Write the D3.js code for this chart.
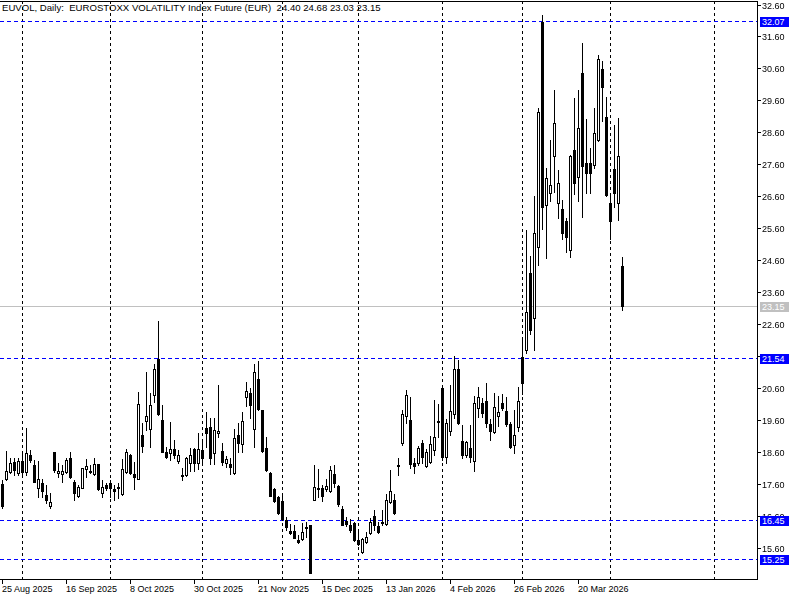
<!DOCTYPE html>
<html>
<head>
<meta charset="utf-8">
<script src="https://cdn.jsdelivr.net/npm/d3@7"></script>
<style>
  body { margin: 0; background: #fff; }
  svg { display: block; font-family: "Liberation Sans", Arial, sans-serif; font-size: 9px; }
</style>
</head>
<body>
<div id="chart" style="width:800px;height:600px"></div>
<script>
"use strict";

const title = "EUVOL, Daily:  EUROSTOXX VOLATILITY Index Future (EUR)  24.40 24.68 23.03 23.15";

// daily bars, oldest first (25 Aug 2025 ...)
const open = [17.60,17.73,17.95,18.28,17.92,18.30,17.95,18.49,18.18,17.47,17.61,17.24,16.91,18.58,17.92,17.91,17.97,18.41,17.66,17.22,
  17.47,18.05,17.99,17.89,18.20,17.32,17.57,17.63,17.43,17.49,17.27,17.97,18.49,17.89,17.76,19.12,19.57,19.30,20.39,21.50,
  19.59,18.60,18.57,18.67,18.31,17.84,17.87,18.25,18.67,18.25,18.65,19.33,19.36,18.55,19.17,18.62,18.23,18.20,17.94,19.12,
  18.83,20.30,20.45,19.30,20.89,19.90,18.73,17.92,17.42,17.19,17.06,16.46,16.12,16.12,15.85,15.88,16.21,16.30,17.10,17.46,
  17.45,17.44,17.38,17.89,17.52,16.79,16.43,16.30,16.38,15.83,15.46,15.78,16.04,16.58,16.27,16.38,16.33,17.03,17.10,18.18,
  18.88,19.72,19.60,18.25,18.23,18.86,18.15,18.28,18.65,19.56,20.58,18.42,19.25,19.78,21.18,18.94,18.49,18.70,18.31,19.98,
  20.11,20.20,19.48,19.22,19.71,20.11,19.88,19.48,18.81,19.38,21.55,21.78,24.18,22.77,25.02,32.04,26.32,26.71,27.87,26.38,
  26.19,25.83,24.90,28.03,27.19,30.45,27.65,27.63,27.58,28.36,30.57,29.07,26.38,27.44,26.38,24.40];
const high = [17.70,18.62,18.41,18.41,18.41,18.52,19.35,18.65,18.34,18.32,17.76,17.55,17.32,18.60,18.23,18.18,18.39,18.60,17.71,17.55,
  18.10,18.37,18.18,18.39,18.22,17.71,17.61,17.71,17.55,17.61,18.37,18.67,18.52,18.28,20.46,19.49,21.10,20.43,21.33,22.69,
  20.06,18.75,19.52,18.96,18.65,18.10,18.44,18.72,18.72,19.17,18.96,19.85,19.64,19.64,20.69,18.88,18.46,18.39,19.30,19.49,
  19.85,20.79,20.58,21.34,21.44,19.92,19.05,17.97,17.45,17.21,17.27,16.56,16.35,16.30,15.99,16.37,16.40,16.30,18.18,18.07,
  17.55,17.76,18.15,18.18,17.55,16.90,16.56,16.48,16.40,16.09,15.91,16.09,16.51,16.77,16.40,16.77,17.27,18.02,17.27,18.39,
  19.92,20.53,20.30,18.39,18.77,18.98,18.67,19.09,20.21,20.09,20.65,19.61,20.69,21.59,21.47,19.43,18.94,19.43,20.34,20.61,
  20.27,20.76,19.61,20.45,20.34,20.42,20.32,19.54,19.92,20.61,22.18,25.54,24.73,26.59,29.35,32.28,27.47,28.36,29.93,27.42,
  26.48,25.91,27.90,29.67,29.93,31.41,29.01,28.10,29.35,31.02,30.82,29.70,26.64,28.83,29.04,24.68];
const low = [16.85,17.70,17.92,17.87,17.87,17.82,17.87,18.28,17.64,17.19,17.19,16.98,16.84,17.95,17.82,17.66,17.92,17.79,17.08,17.19,
  17.45,17.82,17.92,17.87,17.40,17.19,17.40,17.19,17.08,17.16,17.24,17.92,17.89,17.43,17.74,18.60,19.28,18.75,20.14,19.75,
  18.58,18.39,18.34,18.41,18.26,17.71,17.84,17.99,17.99,18.05,18.28,18.75,18.21,18.21,19.05,18.18,18.13,17.89,17.89,18.60,
  18.60,20.03,19.66,18.75,19.92,18.60,17.99,17.21,17.03,16.65,16.46,16.16,16.02,15.91,15.75,15.85,15.93,14.81,17.08,17.17,
  17.06,17.38,17.35,17.50,16.90,16.30,16.27,16.09,15.81,15.67,15.44,15.75,16.02,16.16,16.06,16.30,16.30,16.98,16.65,17.87,
  18.81,19.51,18.10,17.92,18.18,18.25,18.13,18.25,18.49,19.07,18.34,18.25,19.12,19.64,19.48,18.39,18.44,18.28,18.00,19.67,
  19.67,19.36,18.98,19.17,19.40,19.92,19.40,18.70,18.57,19.25,20.40,21.70,22.28,21.78,24.45,25.56,24.65,26.46,26.74,25.91,
  25.25,24.86,24.71,26.67,26.46,25.94,26.71,26.71,27.47,28.34,28.94,26.61,25.25,26.27,25.85,23.03];
const close = [16.91,18.01,18.26,18.02,18.30,17.97,18.55,18.34,17.66,17.73,17.38,17.08,17.01,18.02,17.99,17.99,18.34,17.82,17.31,17.48,
  18.08,18.16,17.95,18.20,17.43,17.50,17.47,17.47,17.37,17.45,18.06,18.58,17.92,17.82,20.08,18.79,19.72,20.06,21.19,19.78,
  18.60,18.44,18.67,18.51,18.51,17.86,18.39,18.51,18.25,18.67,18.39,19.17,18.39,19.28,19.24,18.28,18.36,18.11,19.02,18.88,
  19.56,20.51,20.06,21.10,19.95,18.63,18.02,17.22,17.06,16.69,16.48,16.25,16.06,15.91,15.78,16.09,16.24,14.81,17.50,17.42,
  17.21,17.52,18.04,17.63,16.96,16.30,16.35,16.14,15.83,15.71,15.88,15.93,16.40,16.30,16.09,16.41,17.08,17.37,16.67,18.15,
  19.78,20.37,18.20,18.15,18.73,18.42,18.60,18.83,19.05,19.54,18.42,19.51,19.88,21.18,19.51,18.49,18.91,18.42,20.13,20.32,
  19.82,19.51,19.25,20.01,19.85,19.98,19.46,18.75,19.12,20.20,20.74,22.98,22.41,25.46,29.22,26.25,27.16,26.95,28.90,27.00,
  25.44,25.31,27.86,27.02,28.73,27.53,27.34,27.32,28.57,30.89,30.01,26.64,25.83,26.71,27.86,23.15];

// time axis: bar index of each label, and first bar of each month (grid)
const dateTicks = [0, 16, 32, 48, 64, 80, 96, 112, 128, 144];
const dateLabels = ["25 Aug 2025", "16 Sep 2025", "8 Oct 2025", "30 Oct 2025", "21 Nov 2025",
  "15 Dec 2025", "13 Jan 2026", "4 Feb 2026", "26 Feb 2026", "20 Mar 2026"];
const monthStarts = [5, 27, 50, 70, 89, 110, 130, 152, 178];

const priceTicks = [15.60, 16.60, 17.60, 18.60, 19.60, 20.60, 21.60, 22.60, 23.60, 24.60,
  25.60, 26.60, 27.60, 28.60, 29.60, 30.60, 31.60, 32.60];
const levels = [32.07, 21.54, 16.45, 15.25];
const lastPrice = 23.15;


const width = 800, height = 600;
const plotRight = 757, plotTop = 1, plotBottom = 579;

const svg = d3.select("#chart").append("svg")
    .attr("width", width)
    .attr("height", height)
    .style("shape-rendering", "crispEdges");

svg.append("rect").attr("width", width).attr("height", height).attr("fill", "#fff");

// bar index -> pixel (4 px per bar), price -> pixel
const x = d3.scaleLinear().domain([0, 155]).range([2.5, 622.5]);
const y = d3.scaleLinear().domain([15.6, 32.6]).range([547.5, 4.5]);
const py = v => Math.round(y(v)) + 0.5;

// month grid
svg.append("g").selectAll("line")
    .data(monthStarts)
    .join("line")
    .attr("x1", d => x(d)).attr("x2", d => x(d))
    .attr("y1", plotTop).attr("y2", plotBottom)
    .attr("stroke", "#000")
    .attr("stroke-dasharray", "3,3");

// current price
svg.append("line")
    .attr("x1", 0).attr("x2", plotRight)
    .attr("y1", py(lastPrice)).attr("y2", py(lastPrice))
    .attr("stroke", "#c0c0c0");

// horizontal levels
svg.append("g").selectAll("line")
    .data(levels)
    .join("line")
    .attr("x1", 0).attr("x2", plotRight)
    .attr("y1", d => py(d)).attr("y2", d => py(d))
    .attr("stroke", "#0000ff")
    .attr("stroke-dasharray", "4,3");

// candles
const bars = d3.range(open.length);
const g = svg.append("g");
g.selectAll("line.wick")
    .data(bars)
    .join("line")
    .attr("class", "wick")
    .attr("x1", i => x(i)).attr("x2", i => x(i))
    .attr("y1", i => py(high[i]) - 0.5).attr("y2", i => py(low[i]) + 0.5)
    .attr("stroke", "#000");

g.selectAll("rect.body")
    .data(bars)
    .join("rect")
    .attr("class", "body")
    .attr("x", i => x(i) - 1)
    .attr("width", 2)
    .attr("y", i => py(Math.max(open[i], close[i])))
    .attr("height", i => Math.max(0, py(Math.min(open[i], close[i])) - py(Math.max(open[i], close[i]))))
    .attr("fill", i => close[i] >= open[i] ? "#fff" : "#000")
    .attr("stroke", "#000");

// frame
svg.append("path")
    .attr("d", `M0,${plotTop + 0.5}H${plotRight + 0.5}V${plotBottom + 0.5}H0`)
    .attr("fill", "none")
    .attr("stroke", "#000");

// highlighted prices on the axis (blue levels + grey last price)
const tags = levels.map(v => ({ v, c: "#0000ff" })).concat([{ v: lastPrice, c: "#c0c0c0" }]);

// price axis; labels sitting fully under a tag are not drawn, partly covered ones are masked
const mask = svg.append("defs").append("mask").attr("id", "tagmask");
mask.append("rect").attr("x", 740).attr("y", 0).attr("width", 60).attr("height", 600).attr("fill", "#fff");
mask.selectAll("rect.hole")
    .data(tags)
    .join("rect")
    .attr("class", "hole")
    .attr("x", 760).attr("y", d => py(d.v) - 5)
    .attr("width", 29).attr("height", 10)
    .attr("fill", "#000");

const ya = svg.append("g");
ya.selectAll("line")
    .data(priceTicks)
    .join("line")
    .attr("x1", plotRight).attr("x2", plotRight + 4)
    .attr("y1", d => py(d)).attr("y2", d => py(d))
    .attr("stroke", "#000");
ya.append("g")
    .attr("mask", "url(#tagmask)")
    .selectAll("text")
    .data(priceTicks.filter(d => tags.every(t => Math.abs(py(t.v) - py(d)) > 3)))
    .join("text")
    .attr("x", plotRight + 5)
    .attr("y", d => py(d))
    .attr("dy", "0.35em")
    .text(d => d.toFixed(2));

const tg = svg.append("g").selectAll("g")
    .data(tags)
    .join("g")
    .attr("transform", d => `translate(0,${py(d.v)})`);
tg.append("rect")
    .attr("x", 760).attr("y", -5)
    .attr("width", 29).attr("height", 10)
    .attr("fill", d => d.c);
tg.append("text")
    .attr("x", plotRight + 5)
    .attr("dy", "0.35em")
    .attr("fill", "#fff")
    .text(d => d.v.toFixed(2));

// time axis
const xa = svg.append("g");
xa.selectAll("line")
    .data(dateTicks)
    .join("line")
    .attr("x1", d => x(d)).attr("x2", d => x(d))
    .attr("y1", plotBottom).attr("y2", plotBottom + 5)
    .attr("stroke", "#000");
xa.selectAll("text")
    .data(dateTicks)
    .join("text")
    .attr("x", d => x(d) - 0.5)
    .attr("y", 592)
    .text((d, k) => dateLabels[k]);

// title
svg.append("text")
    .attr("x", 2)
    .attr("y", 11)
    .style("font-size", "9.6px")
    .style("white-space", "pre")
    .text(title);
</script>
</body>
</html>
